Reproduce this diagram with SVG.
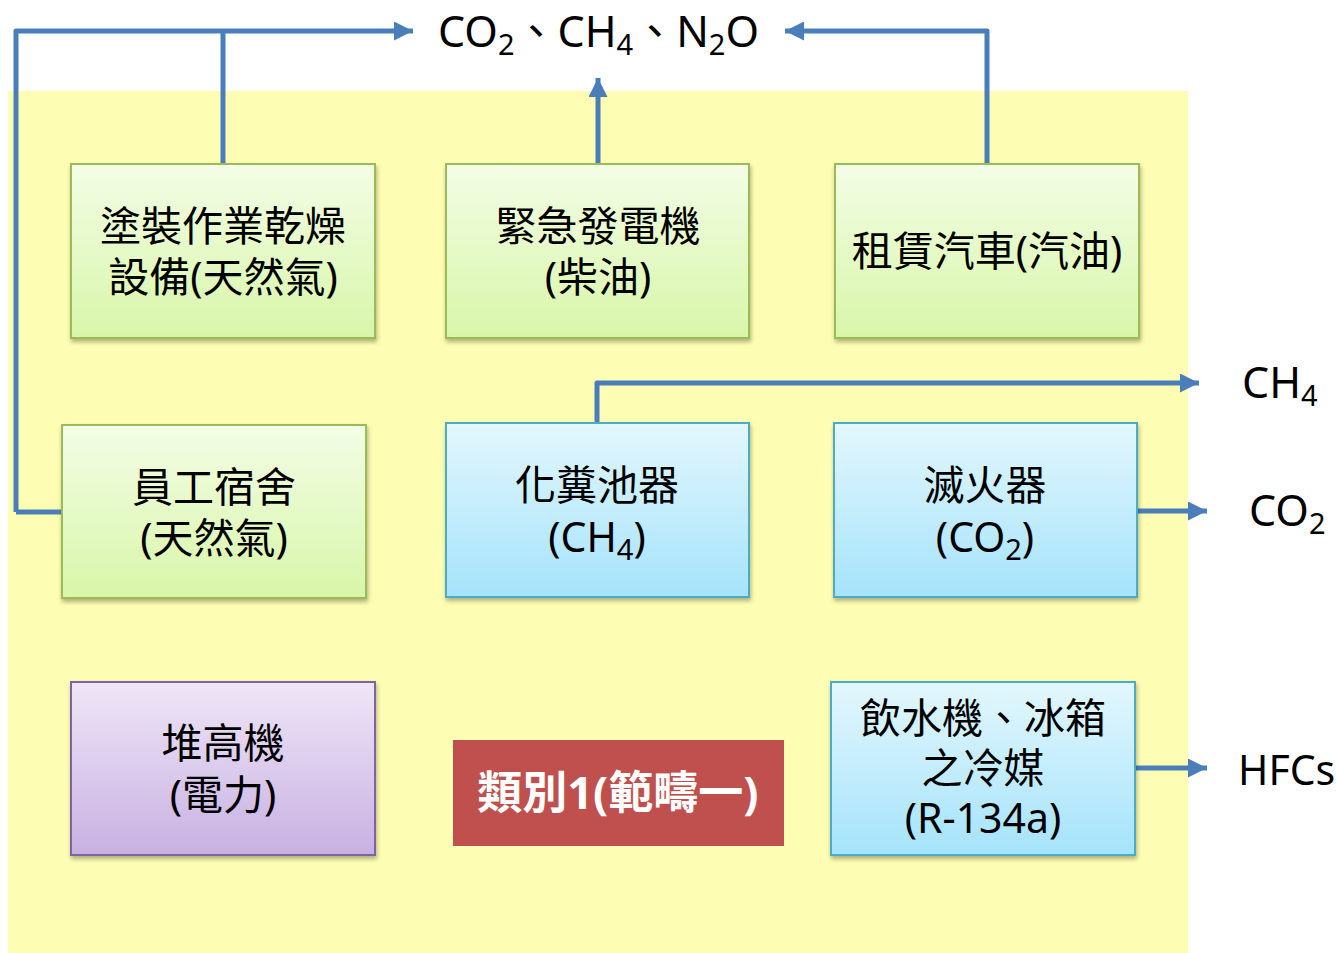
<svg xmlns="http://www.w3.org/2000/svg" width="1339" height="953" viewBox="0 0 1339 953">
<defs>
<linearGradient id="gGreen" x1="0" y1="0" x2="0" y2="1"><stop offset="0" stop-color="#f3fde6"/><stop offset="1" stop-color="#d8f6a9"/></linearGradient>
<linearGradient id="gBlue" x1="0" y1="0" x2="0" y2="1"><stop offset="0" stop-color="#e3f7fd"/><stop offset="1" stop-color="#a5e3fb"/></linearGradient>
<linearGradient id="gPurple" x1="0" y1="0" x2="0" y2="1"><stop offset="0" stop-color="#efe6f7"/><stop offset="1" stop-color="#c8b1e2"/></linearGradient>
<filter id="sh" x="-5%" y="-5%" width="112%" height="115%"><feDropShadow dx="1" dy="3" stdDeviation="2" flood-color="#000" flood-opacity="0.3"/></filter>
<marker id="arr" viewBox="0 0 10 10" refX="10" refY="5" markerWidth="4" markerHeight="3.8" orient="auto" markerUnits="strokeWidth"><path d="M0,0 L10,5 L0,10 z" fill="#4a7ebb"/></marker>
<style>
.t{font-family:"Noto Sans","Noto Sans CJK TC",sans-serif;font-size:41px;fill:#000;text-anchor:middle}
.lbl{font-family:"Noto Sans","Noto Sans CJK TC",sans-serif;font-size:43px;fill:#000}
.sub{font-size:29px}
.g{fill:url(#gGreen);stroke:#9bbb59;stroke-width:2}
.b{fill:url(#gBlue);stroke:#4bacc6;stroke-width:2}
.p{fill:url(#gPurple);stroke:#8064a2;stroke-width:2}
.c{fill:none;stroke:#4a7ebb;stroke-width:5;stroke-linejoin:round}
</style>
</defs>
<rect x="8" y="91" width="1180" height="862" fill="#fdfdb3"/>
<g id="connectors">
<path class="c" d="M16,512 L16,31 L413,31" marker-end="url(#arr)"/>
<path class="c" d="M223,164 L223,31"/>
<path class="c" d="M598,164 L598,78" marker-end="url(#arr)"/>
<path class="c" d="M987,164 L987,31 L785,31" marker-end="url(#arr)"/>
<path class="c" d="M16,512 L62,512"/>
<path class="c" d="M597,423 L597,383 L1199,383" marker-end="url(#arr)"/>
<path class="c" d="M1138,511 L1207,511" marker-end="url(#arr)"/>
<path class="c" d="M1135,768 L1207,768" marker-end="url(#arr)"/>
</g>
<g id="labels">
<text class="lbl" x="438" y="47">CO<tspan class="sub" dy="8">2</tspan><tspan dy="-8">、CH</tspan><tspan class="sub" dy="8">4</tspan><tspan dy="-8">、N</tspan><tspan class="sub" dy="8">2</tspan><tspan dy="-8">O</tspan></text>
<text class="lbl" x="1242" y="398">CH<tspan class="sub" dy="8">4</tspan></text>
<text class="lbl" x="1249" y="526">CO<tspan class="sub" dy="8">2</tspan></text>
<text class="lbl" x="1238" y="785" style="font-size:41px">HFCs</text>
</g>
<g id="n1"><rect class="g" x="71" y="164" width="304" height="174" filter="url(#sh)"/>
<text class="t" x="223" y="241">塗裝作業乾燥</text><text class="t" x="223" y="292">設備(天然氣)</text></g>
<g id="n2"><rect class="g" x="446" y="164" width="303" height="174" filter="url(#sh)"/>
<text class="t" x="598" y="241">緊急發電機</text><text class="t" x="598" y="292">(柴油)</text></g>
<g id="n3"><rect class="g" x="835" y="164" width="304" height="174" filter="url(#sh)"/>
<text class="t" x="987" y="266">租賃汽車(汽油)</text></g>
<g id="n4"><rect class="g" x="62" y="425" width="304" height="173" filter="url(#sh)"/>
<text class="t" x="214" y="502">員工宿舍</text><text class="t" x="214" y="553">(天然氣)</text></g>
<g id="n5"><rect class="b" x="446" y="423" width="303" height="174" filter="url(#sh)"/>
<text class="t" x="597" y="500">化糞池器</text><text class="t" x="597" y="552">(CH<tspan class="sub" dy="8">4</tspan><tspan dy="-8">)</tspan></text></g>
<g id="n6"><rect class="b" x="834" y="423" width="303" height="174" filter="url(#sh)"/>
<text class="t" x="985" y="500">滅火器</text><text class="t" x="985" y="552">(CO<tspan class="sub" dy="8">2</tspan><tspan dy="-8">)</tspan></text></g>
<g id="n7"><rect class="p" x="71" y="682" width="304" height="173" filter="url(#sh)"/>
<text class="t" x="223" y="758">堆高機</text><text class="t" x="223" y="810">(電力)</text></g>
<g id="n8"><rect class="b" x="831" y="682" width="304" height="173" filter="url(#sh)"/>
<text class="t" x="983" y="733">飲水機、冰箱</text><text class="t" x="983" y="783">之冷媒</text><text class="t" x="983" y="833">(R-134a)</text></g>
<g id="n9"><rect x="453" y="740" width="331" height="106" fill="#c0504d"/>
<text class="t" x="618" y="809" style="fill:#fff;font-weight:bold;font-size:45px">類別1(範疇一)</text></g>
</svg>
